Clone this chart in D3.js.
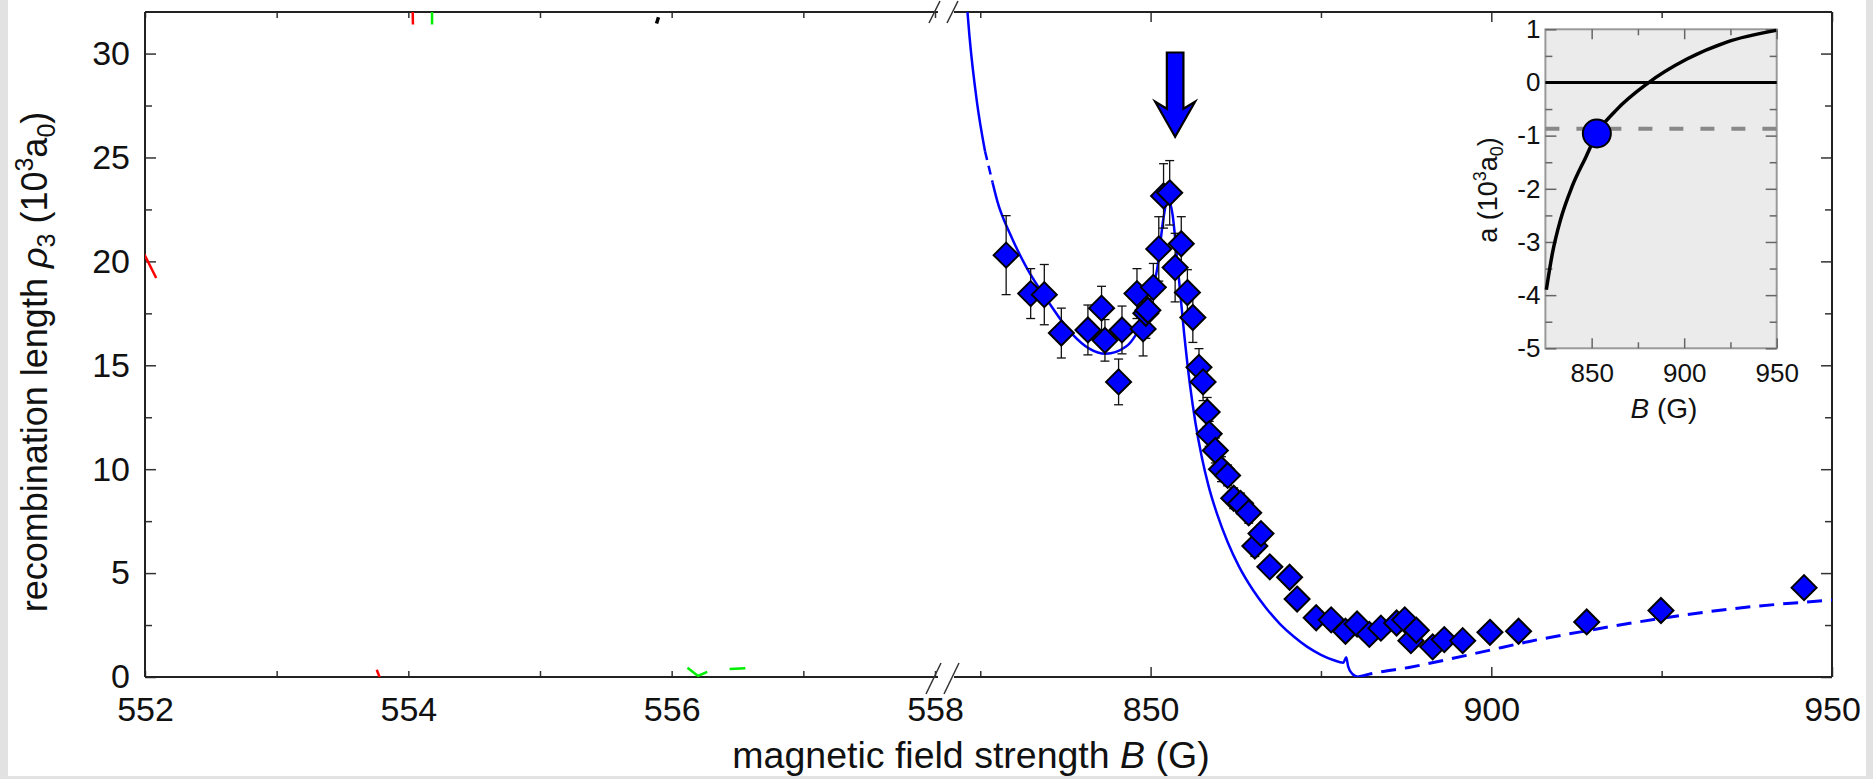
<!DOCTYPE html>
<html>

<head>
  <meta charset="utf-8">
  <title>recombination length</title>
  <style>
    body { margin: 0; background: #e2e2e2; }
    svg { display: block; }
    text { font-family: 'Liberation Sans', Arial, Helvetica, sans-serif; fill: #111; }
  </style>
</head>

<body>
  <svg id="main" width="1873" height="779"></svg>

  <script src="https://cdn.jsdelivr.net/npm/d3@7.0.1/dist/d3.min.js"></script>
  <script>
    // measured recombination length (10^3 a0) vs field B (G)
    const fieldB = [828.8, 832.4, 834.4, 836.9, 840.8, 842.8, 843.3, 845.3, 845.8, 848.0,
      848.9, 849.3, 849.6, 850.4, 851.2, 851.9, 852.8, 853.6, 854.5, 855.4,
      856.2, 857.1, 857.7, 858.3, 858.6, 859.5, 860.4, 861.3, 862.2, 863.2,
      864.4, 865.3, 866.2, 867.5, 870.4, 871.5, 874.3, 876.5, 878.6, 880.3,
      882.1, 883.8, 886.1, 887.3, 888.2, 889.0, 891.4, 893.1, 895.8, 899.8,
      904.0, 914.0, 924.9, 945.9]
    const rho3 = [20.3, 18.45, 18.4, 16.55, 16.7, 17.75, 16.2, 14.2, 16.7, 18.45,
      16.75, 17.5, 17.65, 18.75, 20.6, 23.15, 23.3, 19.7, 20.85, 18.5,
      17.3, 14.9, 14.2, 12.75, 11.7, 10.9, 10.0, 9.7, 8.6, 8.35,
      7.9, 6.3, 6.9, 5.3, 4.8, 3.75, 2.85, 2.75, 2.2, 2.55,
      2.05, 2.35, 2.6, 2.75, 1.75, 2.25, 1.45, 1.8, 1.75, 2.15,
      2.2, 2.65, 3.2, 4.3]
    const rhoErr = [1.9, 1.2, 1.45, 1.2, 1.2, 1.05, 1.0, 1.1, 1.15, 1.2,
      1.3, 1.2, 1.1, 1.15, 1.55, 1.55, 1.55, 1.65, 1.3, 1.1,
      1.2, 0.9, 0.9, 0.7, 0.6, 0.6, 0.6, 0.5, 0.5, 0.5,
      0.5, 0.5, 0.4, 0.3, 0.3, 0.3, 0.3, 0.3, 0.3, 0.4,
      0.3, 0.3, 0.3, 0.3, 0.3, 0.3, 0.4, 0.3, 0.3, 0.3,
      0.3, 0.3, 0.3, 0.3]

    // theory curve (solid, with a short broken stretch) and its dashed continuation
    const fitB = [823.0, 823.4, 824.5, 825.7, 826.8, 827.5, 829.4, 831.8, 834.9, 838.5, 841.0,
      843.4, 846.4, 847.9, 849.5, 851.0, 851.9, 852.5, 853.2, 854.0, 854.9,
      855.8, 856.6, 857.5, 858.5, 859.8, 861.3, 863.0, 865.0, 867.0, 869.0,
      871.0, 873.0, 875.0, 876.8, 878.3, 878.7, 879.0, 879.6, 880.4]
    const fitRho = [32.5, 30.9, 27.7, 25.3, 23.8, 22.9, 21.3, 19.7, 18.1, 16.5, 15.8,
      15.55, 15.9, 16.5, 17.6, 19.7, 22.1, 23.0, 22.3, 19.7, 16.6,
      14.0, 12.2, 10.6, 9.2, 7.8, 6.5, 5.3, 4.2, 3.3, 2.55,
      1.95, 1.45, 1.07, 0.82, 0.69, 0.95, 0.5, 0.15, 0.0]
    const fitBrokenFrom = 825.7
    const fitBrokenTo = 826.8
    const tailB = [880.4, 882.1, 887.9, 893.7, 899.5, 905.4, 914.1, 924.9, 934.5, 950]
    const tailRho = [0.0, 0.14, 0.46, 0.85, 1.27, 1.70, 2.23, 2.82, 3.25, 3.7]

    // arrow marking the peak
    const arrowB = 853.6
    const arrowFrom = 30.05
    const arrowTo = 26.0

    // clipped bits of other traces visible in the left panel
    const strayRed = [[[554.03, 33], [554.035, 31.4]], [[551.99, 20.4], [552.085, 19.2]], [[553.76, 0.35], [553.8, -0.3]]]
    const strayGreen = [[[554.18, 33], [554.18, 31.4]], [[556.12, 0.45], [556.2, 0.05], [556.27, 0.25]], [[556.44, 0.38], [556.56, 0.42]]]
    const strayBlack = [[[555.885, 31.45], [555.9, 31.75]]]

    // inset: scattering length a (10^3 a0) vs B
    const insetB = [825.5, 828.8, 833.1, 839.4, 846.9, 852.9, 863.0, 880.1, 901.5, 923.0, 949.7]
    const insetA = [-3.9, -3.21, -2.59, -1.96, -1.40, -0.96, -0.53, -0.02, 0.44, 0.76, 0.98]
    const insetLevel = -0.87
    const insetMarker = [852.8, -0.96]

    const yMajor = [0, 5, 10, 15, 20, 25, 30]
    const yMinor = [2.5, 7.5, 12.5, 17.5, 22.5, 27.5]
    const leftTicks = [552, 553, 554, 555, 556, 557, 558]
    const rightMajor = [850, 900, 950]
    const rightMinor = [825, 875, 925]
    const insetXMajor = [850, 900, 950]
    const insetXMinor = [875, 925]
    const insetYMajor = [-5, -4, -3, -2, -1, 0, 1]
    const insetYMinor = [-4.5, -3.5, -2.5, -1.5, -0.5, 0.5]

    const svg = d3.select('#main')
    svg.append('rect').attr('x', 8).attr('y', 0).attr('width', 1858).attr('height', 776).attr('fill', '#fff')

    const pLeft = 145, pRight = 1832, pTop = 12, pBottom = 677
    const breakL = 938, breakR = 954
    const tickFont = 34

    const y = d3.scaleLinear().domain([0, 32]).range([pBottom, pTop])
    const xL = d3.scaleLinear().domain([552, 558]).range([pLeft, 935])
    const xR = d3.scaleLinear().domain([821, 950]).range([953, pRight])

    const defs = svg.append('defs')
    defs.append('clipPath').attr('id', 'clipR').append('rect')
      .attr('x', breakR).attr('y', pTop).attr('width', pRight - breakR).attr('height', pBottom - pTop)
    defs.append('clipPath').attr('id', 'clipL').append('rect')
      .attr('x', pLeft).attr('y', pTop).attr('width', breakL - pLeft).attr('height', pBottom - pTop)

    function styleAxis(g) {
      g.select('.domain').remove()
      g.selectAll('.tick line').attr('stroke', '#333').attr('stroke-width', 1.5)
      g.selectAll('.tick text').attr('font-size', tickFont).attr('fill', '#111')
        .attr('font-family', "'Liberation Sans', Arial, sans-serif")
    }

    // y axes
    svg.append('g').attr('transform', `translate(${pLeft},0)`)
      .call(d3.axisLeft(y).tickValues(yMajor).tickSize(-11).tickPadding(15)).call(styleAxis)
    svg.append('g').attr('transform', `translate(${pLeft},0)`)
      .call(d3.axisLeft(y).tickValues(yMinor).tickSize(-7).tickFormat('')).call(styleAxis)
    svg.append('g').attr('transform', `translate(${pRight},0)`)
      .call(d3.axisRight(y).tickValues(yMajor).tickSize(-11).tickFormat('')).call(styleAxis)
    svg.append('g').attr('transform', `translate(${pRight},0)`)
      .call(d3.axisRight(y).tickValues(yMinor).tickSize(-7).tickFormat('')).call(styleAxis)

    // x axes, left segment
    svg.append('g').attr('transform', `translate(0,${pBottom})`)
      .call(d3.axisBottom(xL).tickValues(leftTicks).tickSize(-6).tickPadding(20)
        .tickFormat(d => d % 2 === 0 ? d : ''))
      .call(styleAxis)
    svg.append('g').attr('transform', `translate(0,${pTop})`)
      .call(d3.axisTop(xL).tickValues(leftTicks).tickSize(-6).tickFormat('')).call(styleAxis)

    // x axes, right segment
    svg.append('g').attr('transform', `translate(0,${pBottom})`)
      .call(d3.axisBottom(xR).tickValues(rightMajor).tickSize(-10).tickPadding(20)).call(styleAxis)
    svg.append('g').attr('transform', `translate(0,${pBottom})`)
      .call(d3.axisBottom(xR).tickValues(rightMinor).tickSize(-6).tickFormat('')).call(styleAxis)
    svg.append('g').attr('transform', `translate(0,${pTop})`)
      .call(d3.axisTop(xR).tickValues(rightMajor).tickSize(-10).tickFormat('')).call(styleAxis)
    svg.append('g').attr('transform', `translate(0,${pTop})`)
      .call(d3.axisTop(xR).tickValues(rightMinor).tickSize(-6).tickFormat('')).call(styleAxis)

    // frame with the break gap
    const frame = svg.append('g').attr('stroke', '#222').attr('stroke-width', 2)
    frame.append('line').attr('x1', pLeft).attr('x2', pLeft).attr('y1', pTop).attr('y2', pBottom)
    frame.append('line').attr('x1', pRight).attr('x2', pRight).attr('y1', pTop).attr('y2', pBottom)
    for (const yy of [pTop, pBottom]) {
      frame.append('line').attr('x1', pLeft).attr('x2', breakL).attr('y1', yy).attr('y2', yy)
      frame.append('line').attr('x1', breakR).attr('x2', pRight).attr('y1', yy).attr('y2', yy)
    }
    const slashes = svg.append('g').attr('stroke', '#333').attr('stroke-width', 1.5)
    for (const cx of [934, 952]) {
      slashes.append('line').attr('x1', cx + 6).attr('y1', pTop - 11).attr('x2', cx - 5).attr('y2', pTop + 11)
      slashes.append('line').attr('x1', cx + 7).attr('y1', pBottom - 14).attr('x2', cx - 8).attr('y2', pBottom + 17)
    }

    // stray trace fragments in the left panel
    const strayLine = d3.line().x(d => xL(d[0])).y(d => y(d[1]))
    const strayG = svg.append('g').attr('clip-path', 'url(#clipL)').attr('fill', 'none').attr('stroke-width', 2.5)
    strayG.selectAll('.red').data(strayRed).join('path').attr('class', 'red')
      .attr('d', strayLine).attr('stroke', '#ff0000')
    strayG.selectAll('.green').data(strayGreen).join('path').attr('class', 'green')
      .attr('d', strayLine).attr('stroke', '#00ee00')
    strayG.selectAll('.black').data(strayBlack).join('path').attr('class', 'black')
      .attr('d', strayLine).attr('stroke', '#000').attr('stroke-width', 3.5)

    // theory curves
    const plot = svg.append('g').attr('clip-path', 'url(#clipR)')
    const fitLine = d3.line().x(d => xR(d[0])).y(d => y(d[1])).curve(d3.curveMonotoneX)
    const fitPts = fitB.map((b, i) => [b, fitRho[i]])
    const pieces = [
      { p: fitPts.filter(d => d[0] <= fitBrokenFrom), dash: null },
      { p: fitPts.filter(d => d[0] >= fitBrokenFrom && d[0] <= fitBrokenTo), dash: '9,6' },
      { p: fitPts.filter(d => d[0] >= fitBrokenTo), dash: null }
    ]
    pieces.forEach(s => {
      plot.append('path').attr('d', fitLine(s.p))
        .attr('fill', 'none').attr('stroke', '#0000ff').attr('stroke-width', 2.5)
        .attr('stroke-dasharray', s.dash)
    })
    plot.append('path').attr('d', fitLine(tailB.map((b, i) => [b, tailRho[i]])))
      .attr('fill', 'none').attr('stroke', '#0000ff').attr('stroke-width', 3)
      .attr('stroke-dasharray', '15,9')

    // data with error bars
    const pts = fieldB.map((b, i) => ({ b, r: rho3[i], e: rhoErr[i] }))
    const bars = svg.append('g').attr('stroke', '#111').attr('stroke-width', 1.3)
    pts.forEach(p => {
      const cx = xR(p.b)
      bars.append('line').attr('x1', cx).attr('x2', cx).attr('y1', y(p.r - p.e)).attr('y2', y(p.r + p.e))
      bars.append('line').attr('x1', cx - 4.5).attr('x2', cx + 4.5).attr('y1', y(p.r - p.e)).attr('y2', y(p.r - p.e))
      bars.append('line').attr('x1', cx - 4.5).attr('x2', cx + 4.5).attr('y1', y(p.r + p.e)).attr('y2', y(p.r + p.e))
    })
    const h = 12.5
    svg.append('g').selectAll('.pt').data(pts).join('path').attr('class', 'pt')
      .attr('d', d => `M${xR(d.b)},${y(d.r) - h}L${xR(d.b) + h},${y(d.r)}L${xR(d.b)},${y(d.r) + h}L${xR(d.b) - h},${y(d.r)}Z`)
      .attr('fill', '#0000ff').attr('stroke', '#000').attr('stroke-width', 2)

    // arrow
    const ax = xR(arrowB), aTop = y(arrowFrom), aTip = y(arrowTo)
    svg.append('path')
      .attr('d', `M${ax - 8.3},${aTop}L${ax + 8.3},${aTop}L${ax + 8.3},${aTip - 28}L${ax + 20},${aTip - 35}` +
        `L${ax},${aTip}L${ax - 20},${aTip - 35}L${ax - 8.3},${aTip - 28}Z`)
      .attr('fill', '#0000ff').attr('stroke', '#000').attr('stroke-width', 2.2).attr('stroke-linejoin', 'miter')

    // axis titles
    svg.append('text').attr('x', 971).attr('y', 768).attr('text-anchor', 'middle').attr('font-size', 37.5)
      .call(t => {
        t.append('tspan').text('magnetic field strength ')
        t.append('tspan').attr('font-style', 'italic').text('B')
        t.append('tspan').text(' (G)')
      })
    svg.append('text').attr('transform', 'translate(47,362) rotate(-90)').attr('text-anchor', 'middle')
      .attr('font-size', 36)
      .call(t => {
        t.append('tspan').text('recombination length ')
        t.append('tspan').attr('font-style', 'italic').text('ρ')
        t.append('tspan').attr('font-size', 25).attr('dy', 8).text('3')
        t.append('tspan').attr('dy', -8).text(' (10')
        t.append('tspan').attr('font-size', 25).attr('dy', -14).text('3')
        t.append('tspan').attr('dy', 14).text('a')
        t.append('tspan').attr('font-size', 25).attr('dy', 8).text('0')
        t.append('tspan').attr('dy', -8).text(')')
      })

    // ---- inset ----
    const ix = d3.scaleLinear().domain([825, 950]).range([1545.4, 1776.7])
    const iy = d3.scaleLinear().domain([-5, 1]).range([348.3, 29.3])
    const [il, ir] = ix.range(), [ib, it] = iy.range()
    svg.append('rect').attr('x', il).attr('y', it).attr('width', ir - il).attr('height', ib - it)
      .attr('fill', '#ebebeb').attr('stroke', '#999').attr('stroke-width', 2)

    function styleInset(g) {
      g.select('.domain').remove()
      g.selectAll('.tick line').attr('stroke', '#666').attr('stroke-width', 1.5)
      g.selectAll('.tick text').attr('font-size', 26).attr('fill', '#111')
        .attr('font-family', "'Liberation Sans', Arial, sans-serif")
    }
    svg.append('g').attr('transform', `translate(${il},0)`)
      .call(d3.axisLeft(iy).tickValues(insetYMajor).tickSize(-11).tickPadding(5).tickFormat(d => String(d)))
      .call(styleInset)
    svg.append('g').attr('transform', `translate(${il},0)`)
      .call(d3.axisLeft(iy).tickValues(insetYMinor).tickSize(-7).tickFormat('')).call(styleInset)
    svg.append('g').attr('transform', `translate(${ir},0)`)
      .call(d3.axisRight(iy).tickValues(insetYMajor).tickSize(-11).tickFormat('')).call(styleInset)
    svg.append('g').attr('transform', `translate(${ir},0)`)
      .call(d3.axisRight(iy).tickValues(insetYMinor).tickSize(-7).tickFormat('')).call(styleInset)
    svg.append('g').attr('transform', `translate(0,${ib})`)
      .call(d3.axisBottom(ix).tickValues(insetXMajor).tickSize(-10).tickPadding(15)).call(styleInset)
    svg.append('g').attr('transform', `translate(0,${ib})`)
      .call(d3.axisBottom(ix).tickValues(insetXMinor).tickSize(-6).tickFormat('')).call(styleInset)
    svg.append('g').attr('transform', `translate(0,${it})`)
      .call(d3.axisTop(ix).tickValues(insetXMajor).tickSize(-10).tickFormat('')).call(styleInset)
    svg.append('g').attr('transform', `translate(0,${it})`)
      .call(d3.axisTop(ix).tickValues(insetXMinor).tickSize(-6).tickFormat('')).call(styleInset)

    svg.append('line').attr('x1', il).attr('x2', ir).attr('y1', iy(0)).attr('y2', iy(0))
      .attr('stroke', '#000').attr('stroke-width', 3)
    svg.append('line').attr('x1', il).attr('x2', ir).attr('y1', iy(insetLevel)).attr('y2', iy(insetLevel))
      .attr('stroke', '#888').attr('stroke-width', 4).attr('stroke-dasharray', '14,17')
    svg.append('path')
      .attr('d', d3.line().x(d => ix(d[0])).y(d => iy(d[1])).curve(d3.curveMonotoneX)(insetB.map((b, i) => [b, insetA[i]])))
      .attr('fill', 'none').attr('stroke', '#000').attr('stroke-width', 3.5)
    svg.append('circle').attr('cx', ix(insetMarker[0])).attr('cy', iy(insetMarker[1])).attr('r', 14)
      .attr('fill', '#0000ff').attr('stroke', '#000').attr('stroke-width', 2)

    svg.append('text').attr('x', 1664).attr('y', 418).attr('text-anchor', 'middle').attr('font-size', 28)
      .call(t => {
        t.append('tspan').attr('font-style', 'italic').text('B')
        t.append('tspan').text(' (G)')
      })
    svg.append('text').attr('transform', 'translate(1497,190) rotate(-90)').attr('text-anchor', 'middle')
      .attr('font-size', 27)
      .call(t => {
        t.append('tspan').text('a (10')
        t.append('tspan').attr('font-size', 18).attr('dy', -11).text('3')
        t.append('tspan').attr('dy', 11).text('a')
        t.append('tspan').attr('font-size', 18).attr('dy', 6).text('0')
        t.append('tspan').attr('dy', -6).text(')')
      })
  </script>
</body>

</html>
